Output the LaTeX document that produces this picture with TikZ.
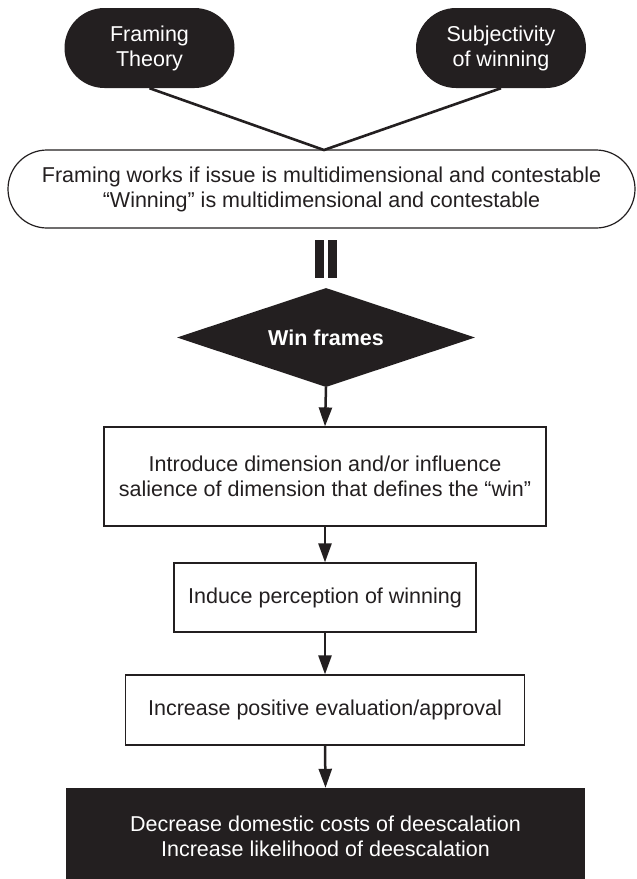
\documentclass[tikz,border=0pt]{standalone}
\usepackage{fontspec}
\setmainfont{Liberation Sans}
\usetikzlibrary{shapes.geometric,shapes.misc,arrows.meta}
\definecolor{ink}{HTML}{231F20}
\begin{document}
\begin{tikzpicture}[x=1pt,y=-1pt,
  every node/.style={font=\fontsize{21.5}{25}\selectfont, align=center, inner sep=0pt, text=ink},
  pill/.style={rounded rectangle, fill=ink, text=white, minimum width=170pt, minimum height=80pt},
  cloud/.style={rounded rectangle, draw=ink, line width=1.2pt, fill=white},
  decide/.style={diamond, aspect=3, fill=ink, text=white, font=\fontsize{21.5}{25}\selectfont\bfseries},
  stepbox/.style={rectangle, draw=ink, line width=1.2pt, fill=white},
  resultbox/.style={rectangle, fill=ink, text=white},
  joinline/.style={draw=ink, line width=2.6pt},
  flow/.style={draw=ink, line width=2.5pt, -{Triangle[length=19pt,width=13pt]}},
  bar/.style={fill=ink}
]
\clip (0,0) rectangle (637,879);
\fill[white] (0,0) rectangle (637,879);

\node[pill] (ft) at (149.5,48) {Framing\\Theory};
\node[pill] (sw) at (501,48) {Subjectivity\\of winning};

\node[cloud, minimum width=627pt, minimum height=78pt] (cond) at (321.5,189)
  {Framing works if issue is multidimensional and contestable\\“Winning” is multidimensional and contestable};

\coordinate (meet) at (324,150);
\draw[joinline] (ft.south) -- (meet) -- (sw.south);

\fill[bar] (315,240) rectangle (324,278);
\fill[bar] (328,240) rectangle (337,278);

\node[decide, minimum width=298pt, minimum height=99pt] (win) at (326,337.5) {Win frames};

\node[stepbox, minimum width=442pt, minimum height=99pt] (b1) at (325,476.5)
  {Introduce dimension and/or influence\\salience of dimension that defines the “win”};
\node[stepbox, minimum width=302pt, minimum height=69pt] (b2) at (325,597.5)
  {Induce perception of winning};
\node[stepbox, minimum width=399pt, minimum height=70pt] (b3) at (325,710)
  {Increase positive evaluation/approval};
\node[resultbox, minimum width=519pt, minimum height=96pt] (res) at (325.5,836)
  {Decrease domestic costs of deescalation\\Increase likelihood of deescalation};

\draw[flow] (win.south) -- (b1.north);
\draw[flow] (b1.south) -- (b2.north);
\draw[flow] (b2.south) -- (b3.north);
\draw[flow] (b3.south) -- (res.north);
\end{tikzpicture}
\end{document}
